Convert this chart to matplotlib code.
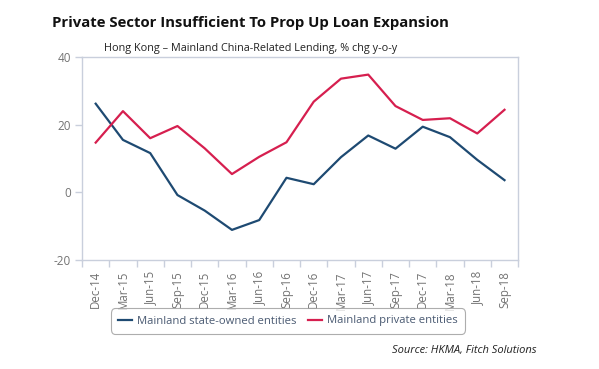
import numpy as np
import matplotlib.pyplot as plt

plt.rcParams['font.family'] = ['Open Sans', 'DejaVu Sans']
plt.rcParams['axes.unicode_minus'] = False

# Hong Kong - Mainland China-related lending, % chg y-o-y
quarters = ["Dec-14", "Mar-15", "Jun-15", "Sep-15", "Dec-15", "Mar-16", "Jun-16", "Sep-16",
            "Dec-16", "Mar-17", "Jun-17", "Sep-17", "Dec-17", "Mar-18", "Jun-18", "Sep-18"]
state_owned = [26.2, 15.5, 11.6, -0.8, -5.4, -11.1, -8.2, 4.3,
               2.4, 10.4, 16.8, 12.9, 19.4, 16.3, 9.6, 3.6]
private = [14.7, 24.0, 16.0, 19.6, 13.0, 5.4, 10.5, 14.8,
           26.8, 33.6, 34.8, 25.5, 21.4, 21.9, 17.4, 24.4]

BLUE = "#1e4a72"
RED = "#d61f4f"
AXIS = "#c9cfdc"
TXT = "#737373"

fig = plt.figure(figsize=(5.99, 3.69), dpi=100)
ax = fig.add_axes([0.137, 0.2954, 0.728, 0.5501])

x = np.arange(len(quarters))
ax.plot(x, state_owned, color=BLUE, lw=1.6, label="Mainland state-owned entities")
ax.plot(x, private, color=RED, lw=1.6, label="Mainland private entities")

ax.set_xlim(-0.5, len(quarters) - 0.5)
ax.set_ylim(-20, 40)
ax.set_yticks([-20, 0, 20, 40])
ax.set_xticks(x)
ax.set_xticklabels(quarters, rotation=90)
ax.set_xticks(np.arange(-0.5, len(quarters), 1.0), minor=True)
ax.tick_params(axis='x', which='major', length=0, pad=8, labelsize=8.3, labelcolor=TXT)
ax.tick_params(axis='x', which='minor', length=5, color=AXIS, width=1)
ax.tick_params(axis='y', length=5, color=AXIS, width=1, labelsize=8.5, labelcolor=TXT, pad=3)
for s in ax.spines.values():
    s.set_color(AXIS)
    s.set_linewidth(1)

# titles
fig.text(250 / 599, 1 - 23 / 369, "Private Sector Insufficient To Prop Up Loan Expansion",
         ha='center', va='center', fontsize=10.7, fontweight='bold', color="#111111")
fig.text(251 / 599, 1 - 48 / 369, "Hong Kong \u2013 Mainland China-Related Lending, % chg y-o-y",
         ha='center', va='center', fontsize=7.8, color="#222222")

# legend
leg = fig.legend(loc='center', bbox_to_anchor=(288 / 599, 1 - 321 / 369), ncol=2,
                 frameon=True, fontsize=8.1, handlelength=1.2, columnspacing=1.0,
                 handletextpad=0.5, borderpad=0.45)
leg.get_frame().set_edgecolor("#999999")
leg.get_frame().set_linewidth(0.8)
leg.get_frame().set_boxstyle("round,pad=0.2,rounding_size=0.4")
for t in leg.get_texts():
    t.set_color("#4a5a72")

fig.text(537 / 599, 1 - 350 / 369, "Source: HKMA, Fitch Solutions", ha='right', va='center',
         fontsize=8, style='italic', color="#222222")

fig.savefig("out.png", dpi=100)
